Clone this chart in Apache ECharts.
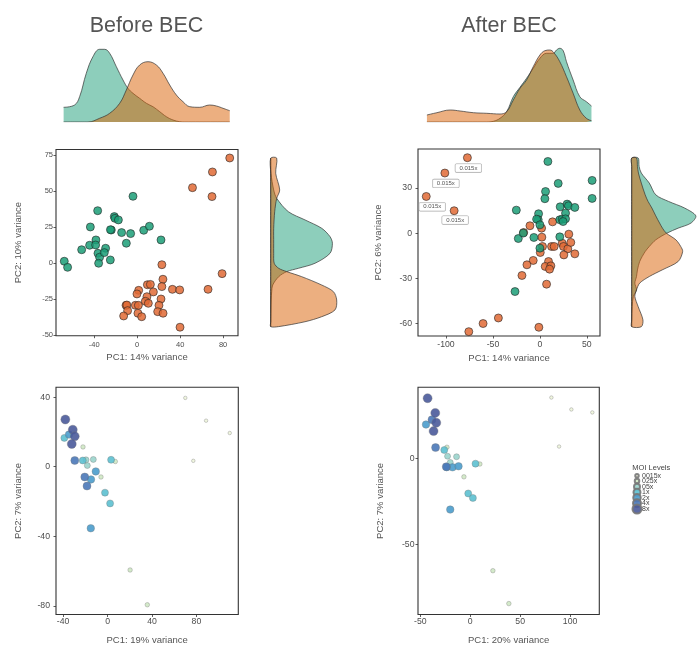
<!DOCTYPE html>
<html><head><meta charset="utf-8">
<script src="https://cdn.jsdelivr.net/npm/echarts@6/dist/echarts.min.js"></script>
<style>html,body{margin:0;padding:0;background:#fff}#c{width:699px;height:646px}</style>
</head><body><div id="c"></div><script>
// ---------------- data ----------------
const panelTitles = ['Before BEC', 'After BEC'];

// Before BEC PCA (group colours green / orange)
const beforeGreen = [[-67.9,1.4],[-64.8,-2.8],[-51.7,9.4],[-43.6,25.2],[-36.8,36.5],[-44.3,12.5],[-38.4,16.2],[-38.7,12.7],[-36.5,6.9],[-35,4.2],[-35.9,0],[-29.4,10.4],[-30.6,7.4],[-25,2.3],[-24.1,23.1],[-24.9,23.3],[-21.3,32.4],[-20.7,31.2],[-17.5,30.1],[-14.5,21.3],[-10.1,13.9],[-6.1,20.6],[-3.9,46.5],[6.1,22.9],[11.4,25.7],[22.2,16.2]];
const beforeOrange = [[86.2,73.1],[70.1,63.4],[51.5,52.5],[69.7,46.3],[79.1,-7.2],[66,-18.1],[23,-1],[24,-11.1],[23,-16.2],[32.8,-18.1],[39.6,-18.5],[9.5,-14.9],[12.3,-14.7],[1.4,-18.8],[-0.2,-21.3],[15.1,-19.9],[9.1,-23.2],[7.6,-26.4],[10.4,-27.8],[22.2,-24.8],[20.3,-29.2],[-10.4,-29.2],[-9.6,-29.0],[-1.7,-29.2],[1.1,-29.2],[-8.9,-32.9],[-12.6,-36.6],[0.7,-34.7],[4.2,-37.1],[19.1,-33.6],[24.1,-34.7],[39.9,-44.4]];

// After BEC PCA
const afterGreen = [[8.5,47.7],[19.5,33.1],[55.6,35.1],[55.6,23.1],[6,27.7],[5.3,22.9],[-25.1,15.3],[-1.4,12.9],[-1.8,8.9],[-3.5,9.3],[0,5.5],[21.6,17.5],[29,19.3],[30.4,18.2],[37.2,17.1],[27.3,13.3],[21.2,8.9],[23.7,9.3],[27.3,9.5],[24.7,7.7],[-23,-3.6],[-6.4,-2.9],[21.2,-2.5],[0,-10],[-17.7,0],[-26.5,-38.9]];
const afterOrange = [[-10.6,4.9],[1.8,3.3],[13.5,7.5],[30.8,-0.7],[2.1,-2.7],[2.8,-8.9],[0.4,-12.9],[-7.1,-18.2],[-13.8,-21.1],[-19.1,-28.2],[12.4,-8.9],[15.2,-8.9],[23.7,-6.7],[25.1,-8.9],[29.7,-10.5],[32.9,-6.2],[25.5,-14.5],[37.2,-13.8],[9.2,-18.9],[5.7,-22.2],[11.7,-21.8],[10.3,-24],[7.1,-34],[-1.1,-62.7],[-44.2,-56.5],[-60.5,-60.2],[-75.7,-65.6],[-17.3,0.4]];
const afterLabeled = [[-77.2,50.2],[-101.2,40],[-121,24.4],[-91.3,14.9]];
const afterLabelText = ['0.015x','0.015x','0.015x','0.015x'];

// marginal densities: [x, height] and [width, y]
const beforeDensGreen = [[-68.5,14.7],[-58.3,17],[-53.6,25.3],[-47.4,48.7],[-41.2,65.3],[-35,72.7],[-30.3,72.7],[-25.6,68.7],[-19.4,55.3],[-13.2,42],[-8.6,33.7],[-3.9,28.7],[2.3,23.7],[8.6,18.7],[14.7,15.3],[21,10.3],[27.2,5.3],[33.4,2],[39.6,0.3],[44.3,0],[86.2,0]];
const beforeDensOrange = [[-68.5,0],[-45.8,0],[-35,3.7],[-25.6,8.7],[-16.3,18.7],[-10.1,32],[-3.9,47],[2.3,57],[10.1,60.3],[17.9,57],[24.1,48.7],[30.3,37],[36.5,27],[42.7,20.3],[49,15.3],[58.3,14.7],[67.5,17],[73.8,16],[80,13.7],[86.2,11.3]];
const afterDensGreen = [[-120.3,0],[-56.6,0],[-49.5,0.7],[-42.5,3.7],[-35.4,10.3],[-28.3,25.3],[-21.2,34.7],[-14.2,43.7],[-7.1,53.7],[0,63.7],[7.1,68.7],[14.2,68.7],[17.7,72],[21.2,73.7],[24.8,71.3],[28.3,60.3],[35.4,42],[42.5,25.3],[49.5,20.3],[54.9,16]];
const afterDensOrange = [[-120.3,7],[-109.7,9.3],[-95.5,12],[-84.9,11],[-70.8,9.3],[-56.6,8.7],[-42.5,8],[-35.4,10.3],[-28.3,22],[-21.2,33.7],[-14.2,42],[-7.1,55.3],[0,67],[5.3,71.3],[10.6,72],[14.9,69.3],[21.2,60.3],[28.3,45.3],[35.4,28.7],[42.5,12],[49.5,3.7],[54.9,1.3]];

const beforeSideGreen = [[0,73],[0.3,62.5],[3,50.9],[6,45.1],[17.7,35.8],[34.3,30.1],[51,24.3],[59.3,18.5],[61.7,13.9],[59.3,6.9],[44.3,0],[27.7,-3.5],[16,-5.8],[8,-9.3],[2,-15.1],[1,-19.7],[0.5,-25.5],[0.3,-32.4],[0,-44]];
const beforeSideOrange = [[6,73],[5,62.5],[9,50.9],[6,45.1],[4,35.8],[3,24.3],[3,13.9],[3,6.9],[3.5,0],[8,-3.5],[16,-5.8],[31,-9.3],[51,-15.1],[62.7,-19.7],[66,-25.5],[64.3,-32.4],[51,-37.1],[34.3,-40.6],[7.7,-44]];
const afterSideGreen = [[6.7,50],[7.7,44.4],[10,40],[18.3,33.3],[25,25.5],[38.3,21.1],[55,16.7],[66.7,11.5],[61.7,6.7],[48.3,3.3],[36.7,0],[25,-4.5],[18.3,-8.9],[14,-12.3],[8.3,-18.9],[6,-24.5],[5,-28.9],[3.3,-33.3],[5,-37.8],[1.7,-42.2],[0.5,-48.9],[0,-57.8],[0,-62.3]];
const afterSideOrange = [[5,50],[6,44.4],[7,40],[10,33.3],[14,25.5],[17,21.1],[21,16.7],[25,11.5],[29,6.7],[32,3.3],[36,0],[46,-4.5],[51,-8.9],[53,-12.3],[48.3,-18.9],[31.7,-24.5],[18.3,-28.9],[8.3,-33.3],[5,-37.8],[3.3,-42.2],[6.7,-48.9],[11.7,-57.8],[10,-62.3]];

// MOI panels
const moiLevels = ['0015x','025x','05x','1x','2x','4x','8x'];
const moiBefore = [
  [[70,39.6],[88.7,26.5],[110,19.4],[77.2,3.4]],
  [[-22.1,11.4],[-5.9,-5.9],[7,3],[20.3,-59.4],[35.8,-79.4]],
  [[-18.2,0.7],[-12.8,4.2],[-19.4,4.0]],
  [[-38.9,16.6],[-2.3,-14.9],[2.3,-21.1],[-22.3,3.6],[3.2,4.0]],
  [[-34.7,18.5],[-14.9,-7.3],[-10.6,-2.7],[-15.1,-35.4]],
  [[-29.5,3.6],[-20.5,-5.9],[-18.5,-11.1]],
  [[-38,27.2],[-31.3,21.3],[-29.5,17.5],[-32.2,13.1]]
];
const moiAfter = [
  [[81.3,35],[101.3,28.1],[122.3,26.4],[89,6.7]],
  [[-23.3,6.3],[-6.3,-10.8],[9.7,-3.4],[22.7,-65],[38.7,-84]],
  [[-22.7,1.1],[-13.7,0.8],[-20,-2.5]],
  [[-26,4.7],[5.3,-3.2],[-2,-20.4],[2.7,-23]],
  [[-44.3,19.4],[-17.7,-5.3],[-11.7,-4.7],[-20,-29.7],[-23.5,-5.2]],
  [[-38.3,22.2],[-34.7,6.1],[-24,-5]],
  [[-42.7,34.6],[-35,26.1],[-34,20.4],[-36.7,15.6]]
];

// tick labels
const tlX = [-40,0,40,80], tlY = [-50,-25,0,25,50,75];
const trX = [-100,-50,0,50], trY = [-60,-30,0,30];
const blX = [-40,0,40,80], blY = [-80,-40,0,40];
const brX = [-50,0,50,100], brY = [-50,0];

// ---------------- style / layout ----------------
const FONT = '"Liberation Sans", Arial, sans-serif';
const GREEN = '#1b9e77', ORANGE = '#e06a35';
const GREEN_A = 'rgba(27,158,119,0.5)', ORANGE_A = 'rgba(217,95,2,0.5)';
const moiColors = ['#eef5dc','#cfe8c4','#9ad4cc','#5cc0d0','#4a9ccc','#4a78b8','#4a5a9a'];
const moiSizes = [3.5,4.5,6,7,7.5,8,9];
const legendY = [474,479.7,485.7,491.3,496.7,502.3,508];
const labelNudge = [[1,0],[1,0],[6,0],[1,-1]];

const grids = [
  {left:56, top:149.5, width:182, height:186.2},
  {left:56, top:47, width:182, height:75},
  {left:270.7, top:149.5, width:70, height:186.2},
  {left:418, top:149, width:182, height:187},
  {left:418, top:47, width:182, height:75},
  {left:631.7, top:149, width:70, height:187},
  {left:56, top:387.3, width:182.3, height:228.7},
  {left:418, top:387.3, width:181.3, height:230}
].map((g,i)=>Object.assign(g, [0,3,6,7].includes(i) ? {show:true, borderColor:'#333', borderWidth:1.1} : {show:false}));

function axX(gi, min, max, ticks, name, fs, margin, gap){
  if(!ticks) return {type:'value', gridIndex:gi, min, max, show:false};
  return {type:'value', gridIndex:gi, min, max, name, nameLocation:'middle', nameGap:gap,
    nameTextStyle:{fontFamily:FONT, fontSize:9.5, color:'#555'},
    axisLine:{show:false, onZero:false}, splitLine:{show:false},
    axisTick:{show:true, customValues:ticks, length:2.5, lineStyle:{color:'#333', width:0.8}},
    axisLabel:{customValues:ticks, fontSize:fs, color:'#4d4d4d', margin, fontFamily:FONT}};
}
const axY = axX;

const xAxis = [
  axX(0,-75.6,93.9,tlX,'PC1: 14% variance',7.5,5,17),
  axX(1,-75.6,93.9),
  axX(2,0,70),
  axX(3,-129.8,64.0,trX,'PC1: 14% variance',8.7,4,17),
  axX(4,-129.8,64.0),
  axX(5,0,70),
  axX(6,-46.4,117.7,blX,'PC1: 19% variance',8.7,3,20.5),
  axX(7,-52.3,129.3,brX,'PC1: 20% variance',8.7,2.5,20.5)
];
const yAxis = [
  axY(0,-50.3,79,tlY,'PC2: 10% variance',7.5,3,33),
  axY(1,0,75),
  axY(2,-50.3,79),
  axY(3,-68.5,56,trY,'PC2: 6% variance',8.7,6,35),
  axY(4,0,75),
  axY(5,-68.5,56),
  axY(6,-85,45.7,blY,'PC2: 7% variance',8.7,6,33),
  axY(7,-90.3,40.9,brY,'PC2: 7% variance',8.7,3.5,33)
];

function topDens(gi, data, color, z){
  return {type:'line', xAxisIndex:gi, yAxisIndex:gi, data, smooth:0.4, symbol:'none', silent:true, z,
    lineStyle:{color:'#333', width:0.7}, areaStyle:{color:color, opacity:0.5}};
}
function sideDens(gi, pts, fill, z){
  return {type:'custom', xAxisIndex:gi, yAxisIndex:gi, data:pts, silent:true, z,
    renderItem:function(params, api){
      if(params.dataIndex !== 0) return;
      const curve = pts.map(p=>api.coord(p));
      const base = pts.slice().reverse().map(p=>api.coord([0,p[1]]));
      return {type:'polygon', shape:{points:curve.concat(base), smooth:0.3},
        style:{fill:fill, stroke:'#333', lineWidth:0.7}};
    }};
}
function pts(gi, data, color, z){
  return {type:'scatter', xAxisIndex:gi, yAxisIndex:gi, data, symbolSize:8, z,
    itemStyle:{color, opacity:0.85, borderColor:'#222', borderWidth:0.7}};
}

const series = [
  topDens(1, beforeDensGreen, '#1b9e77', 2), topDens(1, beforeDensOrange, '#d95f02', 3),
  sideDens(2, beforeSideGreen, GREEN_A, 2), sideDens(2, beforeSideOrange, ORANGE_A, 3),
  topDens(4, afterDensGreen, '#1b9e77', 2), topDens(4, afterDensOrange, '#d95f02', 3),
  sideDens(5, afterSideGreen, GREEN_A, 2), sideDens(5, afterSideOrange, ORANGE_A, 3),
  pts(0, beforeGreen, GREEN, 3), pts(0, beforeOrange, ORANGE, 3),
  pts(3, afterOrange, ORANGE, 3), pts(3, afterGreen, GREEN, 4),
  {type:'scatter', xAxisIndex:3, yAxisIndex:3, symbolSize:8, z:5,
   itemStyle:{color:ORANGE, opacity:0.85, borderColor:'#222', borderWidth:0.7},
   data: afterLabeled.map((p,i)=>({value:p, label:{show:true, formatter:afterLabelText[i], position:'bottom', distance:2, offset:labelNudge[i],
     fontSize:6, color:'#333', fontFamily:FONT, backgroundColor:'#fff', borderColor:'#999', borderWidth:0.6, borderRadius:1, padding:[1,4]}}))}
];
moiLevels.forEach((lv,i)=>{
  [[6,moiBefore],[7,moiAfter]].forEach(([gi,src])=>{
    series.push({type:'scatter', name:lv, xAxisIndex:gi, yAxisIndex:gi, data:src[i], symbolSize:moiSizes[i], z:3+i*0.01,
      itemStyle:{color:moiColors[i], opacity:0.9, borderColor:'#777', borderWidth:0.4}});
  });
});

const legend = moiLevels.map((lv,i)=>({
  data:[lv], orient:'vertical', left:636 - moiSizes[i]/2, top:legendY[i] - moiSizes[i]/2, padding:0,
  itemWidth:moiSizes[i], itemHeight:moiSizes[i], icon:'circle', selectedMode:false,
  textStyle:{fontSize:7, color:'#444', fontFamily:FONT, padding:[0,0,0,-(moiSizes[i]/2)]}
}));

const chart = echarts.init(document.getElementById('c'), null, {renderer:'canvas'});
chart.setOption({
  animation:false,
  backgroundColor:'#fff',
  grid:grids, xAxis, yAxis, series, legend,
  graphic:[
    {type:'text', x:146.5, y:26.5, style:{text:panelTitles[0], fontSize:21.5, fontFamily:FONT, fill:'#555', textAlign:'center', textVerticalAlign:'middle'}},
    {type:'text', x:509, y:26.5, style:{text:panelTitles[1], fontSize:21.5, fontFamily:FONT, fill:'#555', textAlign:'center', textVerticalAlign:'middle'}},
    {type:'text', x:632.3, y:468.3, style:{text:'MOI Levels', fontSize:7.5, fontFamily:FONT, fill:'#444', textAlign:'left', textVerticalAlign:'middle'}}
  ]
});
</script></body></html>
